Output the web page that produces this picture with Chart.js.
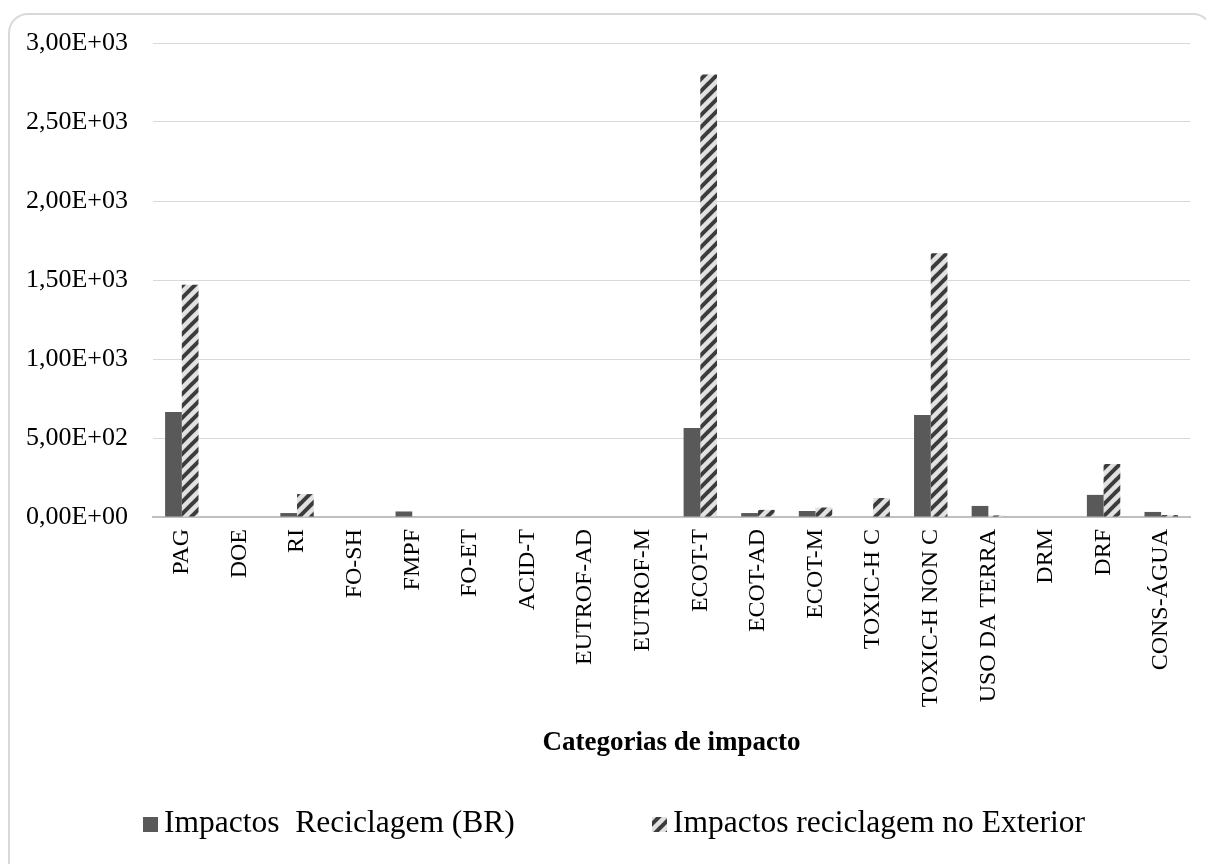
<!DOCTYPE html>
<html lang="pt">
<head>
<meta charset="utf-8">
<title>Categorias de impacto</title>
<script src="https://cdn.jsdelivr.net/npm/chart.js@4.4.1/dist/chart.umd.min.js"></script>
<style>
  html, body { margin: 0; padding: 0; background: #ffffff; }
  body { width: 1206px; height: 864px; position: relative; overflow: hidden; }
  #frame {
    position: absolute; left: 8px; top: 13px; width: 1205px; height: 900px;
    border: 2px solid #d9d9d9; border-radius: 20px; box-sizing: border-box;
  }
  #wrap { position: absolute; left: 0; top: 0; width: 1206px; height: 864px; }
</style>
</head>
<body>
<div id="frame"></div>
<div id="wrap"><canvas id="chart" width="1206" height="864"></canvas></div>
<script>
// Impact categories (x axis)
const categories = [
  'PAG', 'DOE', 'RI', 'FO-SH', 'FMPF', 'FO-ET', 'ACID-T', 'EUTROF-AD', 'EUTROF-M',
  'ECOT-T', 'ECOT-AD', 'ECOT-M', 'TOXIC-H C', 'TOXIC-H NON C', 'USO DA TERRA',
  'DRM', 'DRF', 'CONS-ÁGUA'
];

// Recycling in Brazil
const impactosBR = [
  664, 0, 25, 0, 35, 0, 0, 0, 0,
  563, 25, 38, 0, 645, 70,
  0, 140, 32
];

// Recycling abroad
const impactosExterior = [
  1470, 0, 145, 0, 0, 0, 0, 0, 0,
  2800, 45, 60, 120, 1670, 10,
  0, 335, 12
];

const seriesLabels = ['Impactos  Reciclagem (BR)', 'Impactos reciclagem no Exterior'];
const axisTitle = 'Categorias de impacto';
const yTicks = { min: 0, max: 3000, step: 500 };

const SERIF = '"Liberation Serif", "Times New Roman", serif';

// Diagonal hatch used for the "Exterior" series
function makeHatch() {
  const s = 12;
  const c = document.createElement('canvas');
  c.width = s; c.height = s;
  const g = c.getContext('2d');
  g.fillStyle = '#e2e2e2';
  g.fillRect(0, 0, s, s);
  g.strokeStyle = '#3c3c3c';
  g.lineWidth = 4;
  g.lineCap = 'square';
  for (const off of [-s, 0, s]) {
    g.beginPath();
    g.moveTo(off, s);
    g.lineTo(off + s, 0);
    g.stroke();
  }
  return g.createPattern(c, 'repeat');
}

const ctx = document.getElementById('chart').getContext('2d');
const hatch = makeHatch();
const brColor = '#595959';

// "3000" -> "3,00E+03"
function sci(v) {
  const [m, e] = Number(v).toExponential(2).split('e');
  const n = parseInt(e, 10);
  const sign = n < 0 ? '-' : '+';
  return m.replace('.', ',') + 'E' + sign + String(Math.abs(n)).padStart(2, '0');
}

// Legend drawn under the axis title, two entries spread across the width
const wideLegend = {
  id: 'wideLegend',
  afterDraw(chart) {
    const c = chart.ctx;
    const baseline = 832;
    const items = [
      { x: 143, fill: chart.data.datasets[0].backgroundColor, text: chart.data.datasets[0].label },
      { x: 652, fill: chart.data.datasets[1].backgroundColor, text: chart.data.datasets[1].label }
    ];
    c.save();
    c.font = '31.5px ' + SERIF;
    c.textBaseline = 'alphabetic';
    c.textAlign = 'left';
    for (const it of items) {
      c.fillStyle = it.fill;
      c.fillRect(it.x, baseline - 15, 15, 15);
      c.fillStyle = '#000000';
      c.fillText(it.text, it.x + 21, baseline);
    }
    c.restore();
  }
};

new Chart(ctx, {
  type: 'bar',
  data: {
    labels: categories,
    datasets: [
      { label: seriesLabels[0], data: impactosBR, backgroundColor: brColor,
        categoryPercentage: 0.58, barPercentage: 1.0 },
      { label: seriesLabels[1], data: impactosExterior, backgroundColor: hatch,
        categoryPercentage: 0.58, barPercentage: 1.0 }
    ]
  },
  options: {
    responsive: false,
    animation: false,
    devicePixelRatio: 1,
    layout: { padding: { left: 0, right: 16, top: 43, bottom: 102 } },
    plugins: {
      legend: { display: false },
      tooltip: { enabled: false },
      title: { display: false }
    },
    scales: {
      x: {
        grid: { display: false, drawTicks: false },
        border: { display: true, color: '#bfbfbf', width: 2 },
        ticks: {
          color: '#000000',
          font: { family: SERIF, size: 24 },
          minRotation: 90, maxRotation: 90,
          padding: 12,
          autoSkip: false
        },
        title: {
          display: true,
          text: axisTitle,
          color: '#000000',
          font: { family: SERIF, size: 27, weight: 'bold' },
          padding: { top: 10, bottom: 3 }
        },
        afterFit(scale) { scale.height = 245; }
      },
      y: {
        min: yTicks.min, max: yTicks.max,
        grid: { color: '#d9d9d9', lineWidth: 1, drawTicks: false },
        border: { display: false },
        ticks: {
          stepSize: yTicks.step,
          color: '#000000',
          font: { family: SERIF, size: 26 },
          padding: 25,
          callback: (v) => sci(v)
        },
        afterFit(scale) { scale.width = 153; }
      }
    }
  },
  plugins: [wideLegend]
});
</script>
</body>
</html>
